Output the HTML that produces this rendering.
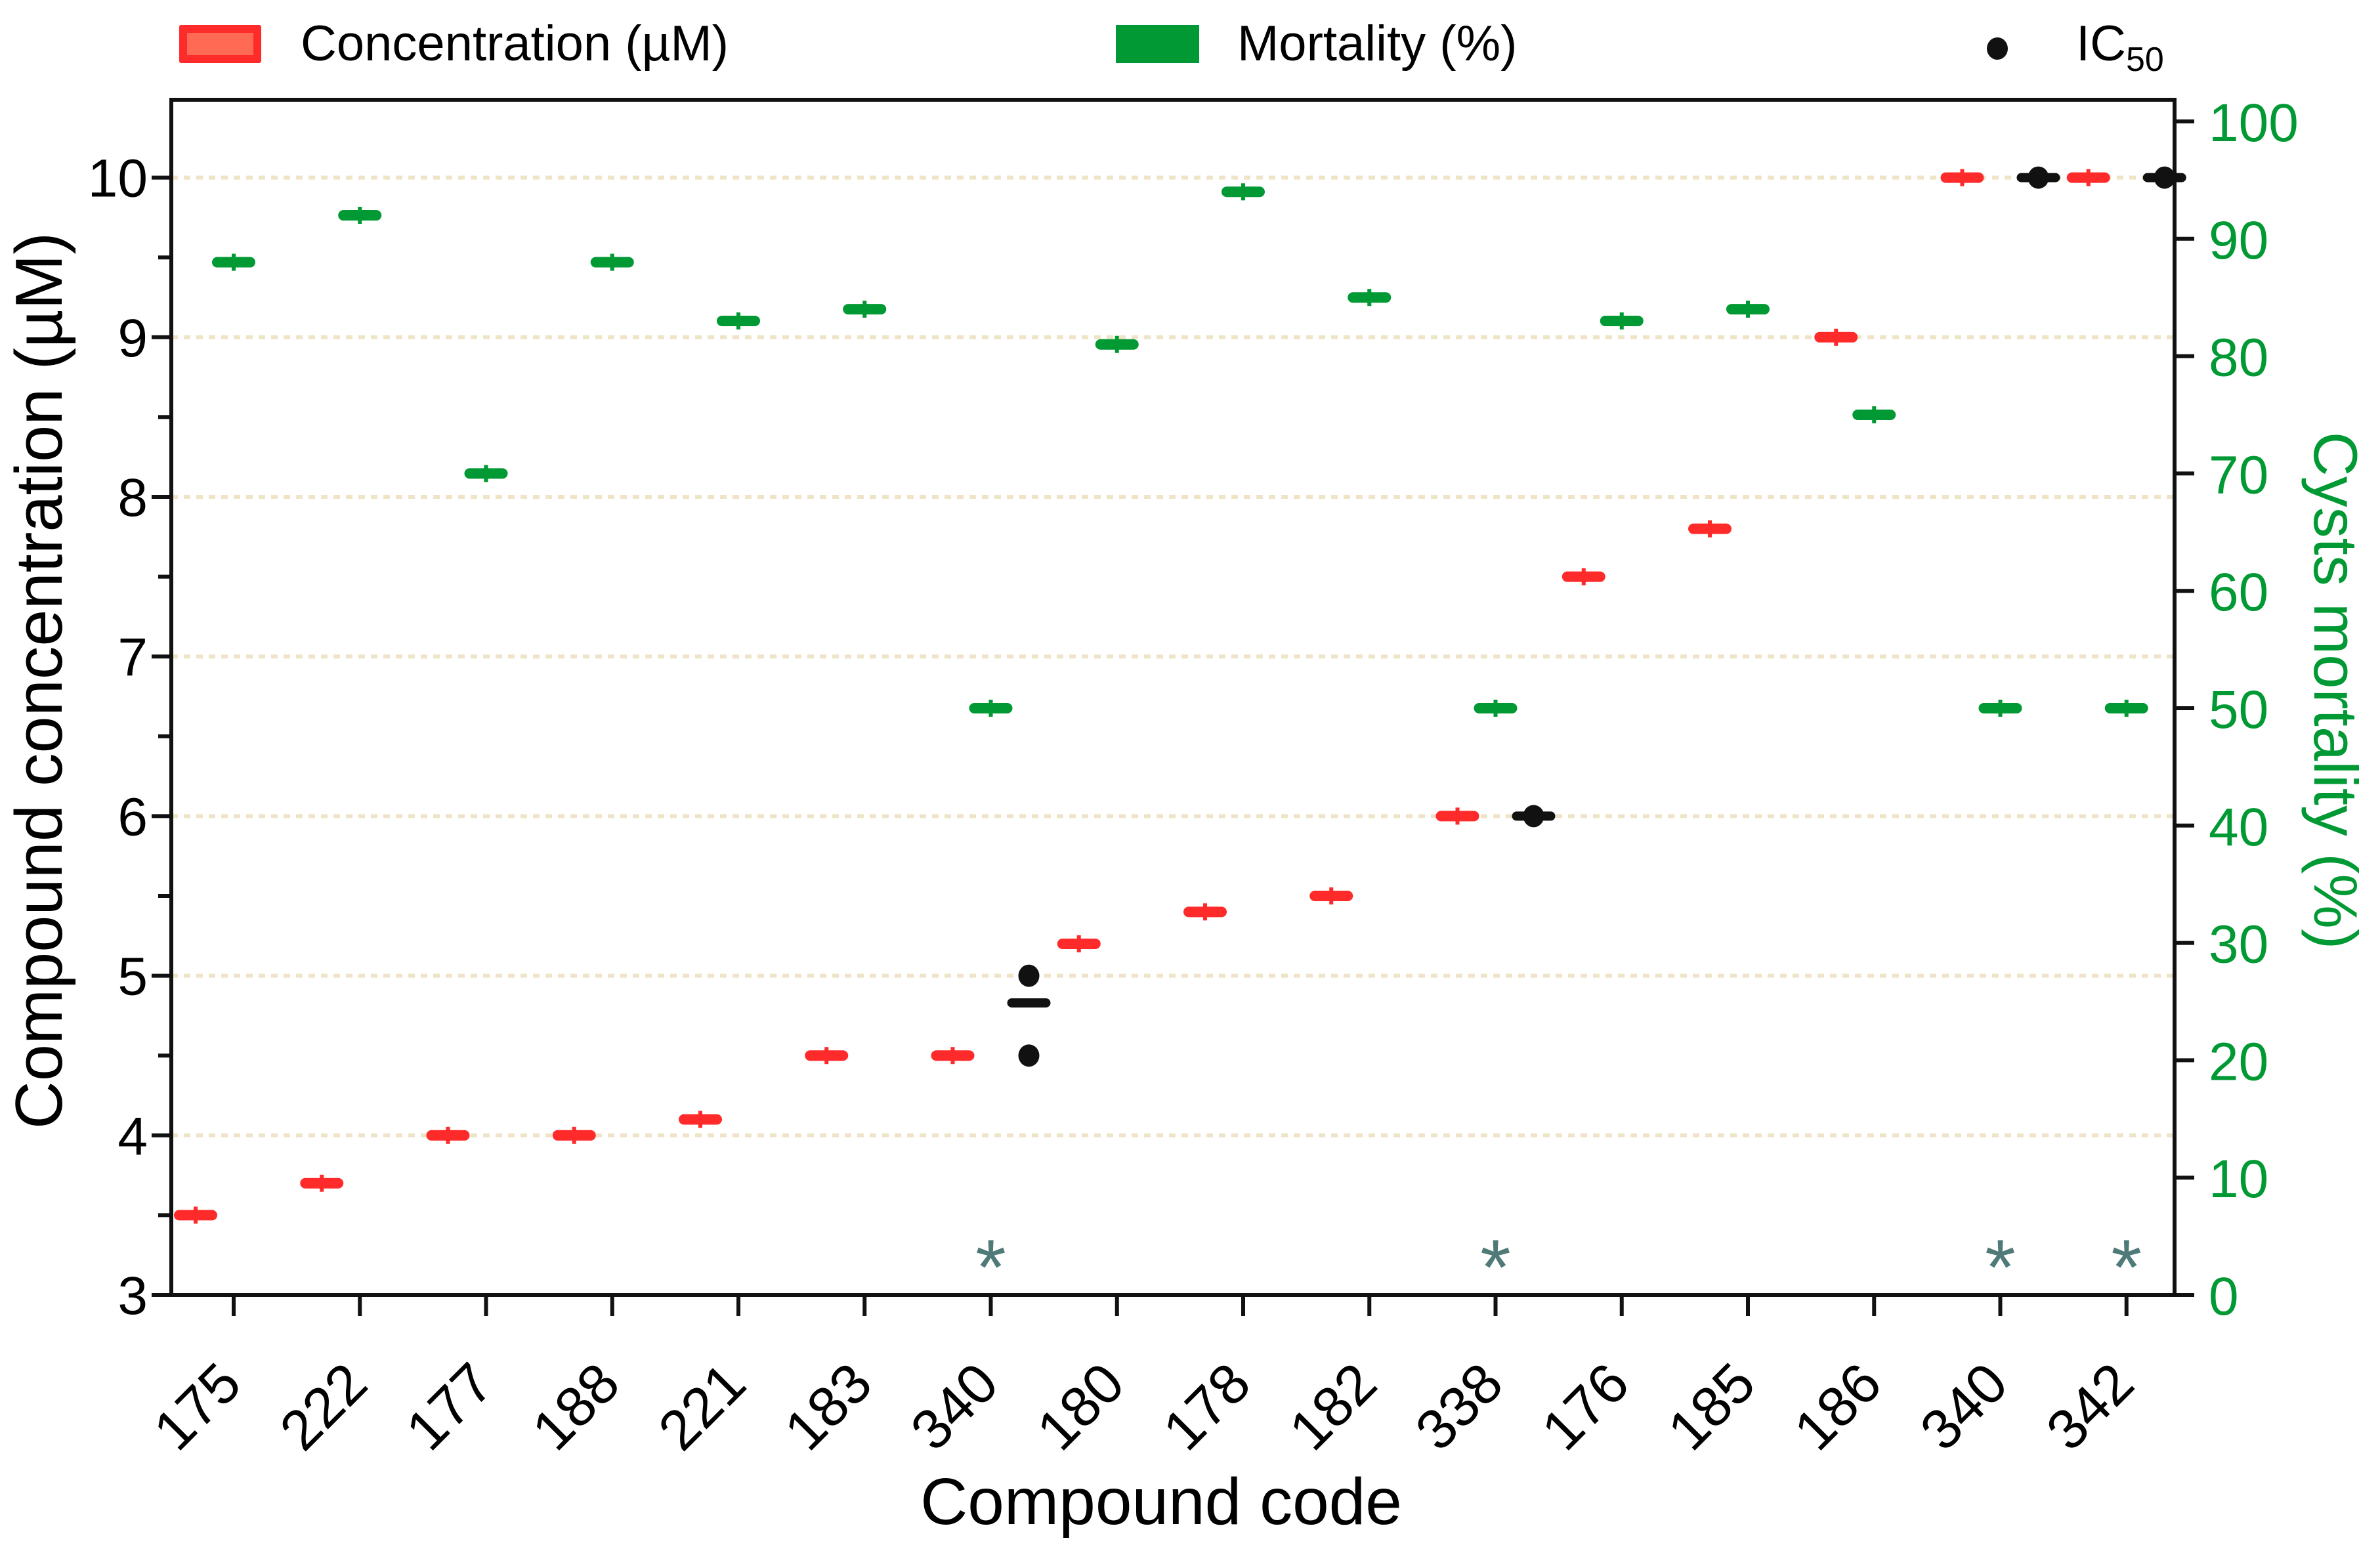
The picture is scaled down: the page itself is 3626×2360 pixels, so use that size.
<!DOCTYPE html>
<html><head><meta charset="utf-8"><style>
html,body{margin:0;padding:0;background:#fff;}
svg{display:block;font-family:"Liberation Sans",Arial,sans-serif;}
</style></head><body>
<svg id="chart" width="3626" height="2360" viewBox="0 0 3626 2360">
<g id="legend">
  <g>
    <rect x="273" y="38" width="125" height="58" fill="#ff2b2b" rx="3"/>
    <rect x="285" y="50" width="101" height="34" fill="#ff6a55"/>
    <text x="458" y="92" font-size="76" fill="#000">Concentration (µM)</text>
  </g>
  <g>
    <rect x="1700" y="38" width="127" height="58" fill="#009933"/>
    <text x="1885" y="92" font-size="76" fill="#000">Mortality (%)</text>
  </g>
  <g>
    <ellipse cx="3043" cy="74" rx="16" ry="17" fill="#111"/>
    <text x="3163" y="92" font-size="76" fill="#000">IC<tspan font-size="52" dy="16">50</tspan></text>
  </g>
</g>
<g id="grid"></g>
<g id="axes"></g>
<g id="marks"></g>
<text transform="translate(94,1037) rotate(-90)" text-anchor="middle" font-size="101" fill="#000">Compound concentration (µM)</text>
<text transform="translate(3526,1052) rotate(90)" text-anchor="middle" font-size="94" fill="#009933">Cysts mortality (%)</text>
<text x="1769" y="2322" text-anchor="middle" font-size="100" fill="#000">Compound code</text>
</svg>
<script>
const categories = ["175","222","177","188","221","183","340","180","178","182","338","176","185","186","340","342"];
const concentration = [3.5,3.7,4.0,4.0,4.1,4.5,4.5,5.2,5.4,5.5,6.0,7.5,7.8,9.0,10,10];
const mortality = [88,92,70,88,83,84,50,81,94,85,50,83,84,75,50,50];
const ic50Index = [6,6,10,14,15];
const ic50Values = [5.0,4.5,6.0,10,10];
const ic50MeanIndex = [6,10,14,15];
const ic50Means = [4.83,6.0,10,10];
const asteriskIndex = [6,10,14,15];
const leftTicks = [3,4,5,6,7,8,9,10];
const rightTicks = [0,10,20,30,40,50,60,70,80,90,100];

const NS="http://www.w3.org/2000/svg";
const L=261,R=3313,T=152,B=1973;
const yL=v=>1973-(v-3)*243.2;
const yR=v=>1973-v*17.88;
const xC=i=>356+i*192.25;
function mk(tag,attrs,parent){const e=document.createElementNS(NS,tag);for(const k in attrs)e.setAttribute(k,attrs[k]);parent.appendChild(e);return e;}
const grid=document.getElementById('grid'),axes=document.getElementById('axes'),marks=document.getElementById('marks');

leftTicks.forEach(v=>{if(v>3){const g=mk('line',{x1:L,x2:R,y1:yL(v),y2:yL(v),stroke:'#efe4c8','stroke-width':6,'stroke-dasharray':'10 9'},grid);

}});

const frame=mk('rect',{x:L,y:T,width:R-L,height:B-T,fill:'none',stroke:'#111','stroke-width':6},axes);



leftTicks.forEach(v=>{
 const t=mk('line',{x1:L-30,x2:L,y1:yL(v),y2:yL(v),stroke:'#111','stroke-width':6},axes);
 
 
 const tx=mk('text',{x:L-36,y:yL(v)+29,'text-anchor':'end','font-size':82,fill:'#000'},axes);tx.textContent=v;
 
 
 if(v<10){const m=mk('line',{x1:L-20,x2:L,y1:yL(v+0.5),y2:yL(v+0.5),stroke:'#111','stroke-width':6},axes);
 
 }
});
rightTicks.forEach(v=>{
 const t=mk('line',{x1:R,x2:R+30,y1:yR(v),y2:yR(v),stroke:'#111','stroke-width':6},axes);
 
 
 const tx=mk('text',{x:R+52,y:yR(v)+30,'font-size':82,fill:'#009933'},axes);tx.textContent=v;
 
 
});
categories.forEach((c,i)=>{
 const t=mk('line',{x1:xC(i),x2:xC(i),y1:B,y2:B+32,stroke:'#111','stroke-width':6},axes);
 
 
 const tx=mk('text',{'text-anchor':'end','font-size':86,fill:'#000',transform:`translate(${xC(i)+16},${B+140}) rotate(-45)`},axes);tx.textContent=c;
 
 
});
function bar(cx,cy,color,name){
 const g=mk('g',{},marks);
 
 
 mk('rect',{x:cx-33,y:cy-8,width:66,height:16,rx:8,fill:color},g);
 mk('rect',{x:cx-3,y:cy-13,width:6,height:26,fill:color},g);
}
concentration.forEach((v,i)=>bar(xC(i)-58,yL(v),'#ff2b2b','concentration-marker'));
mortality.forEach((v,i)=>bar(xC(i),yR(v),'#009933','mortality-marker'));
ic50MeanIndex.forEach((idx,k)=>{
 const r=mk('rect',{x:xC(idx)+58-33,y:yL(ic50Means[k])-7,width:66,height:14,rx:7,fill:'#111'},marks);
 
 
});
ic50Index.forEach((idx,k)=>{
 const d=mk('ellipse',{cx:xC(idx)+58,cy:yL(ic50Values[k]),rx:16,ry:17,fill:'#111'},marks);
 
 
});
asteriskIndex.forEach(idx=>{
 const a=mk('text',{x:xC(idx),y:1972,'text-anchor':'middle','font-size':120,fill:'#4f7a78'},marks);a.textContent='*';
 
 
});
</script>
</body></html>
